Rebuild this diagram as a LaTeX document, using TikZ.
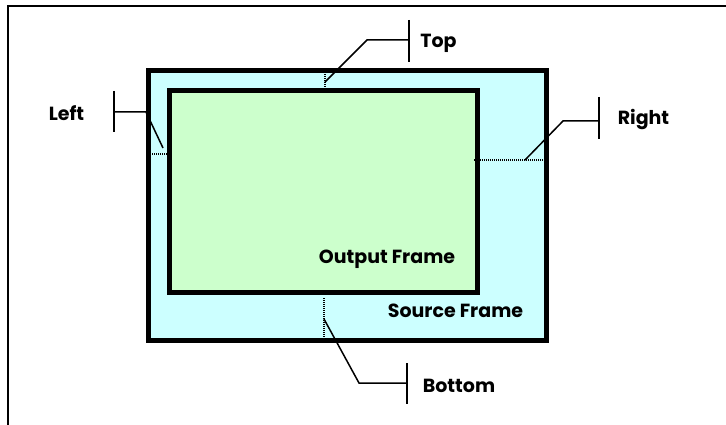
\documentclass[tikz,border=0pt]{standalone}
\usepackage{fontspec}
\setmainfont{Poppins}
\definecolor{srcfill}{HTML}{CCFFFF}
\definecolor{outfill}{HTML}{CCFFCC}
\begin{document}
\begin{tikzpicture}[x=1pt,y=-1pt,
  frame/.style={draw=black,line width=5pt,inner sep=0pt,outer sep=0pt},
  lbl/.style={font=\fontsize{19}{22}\selectfont\bfseries,inner sep=0pt},
  leader/.style={line width=1.5pt},
  measure/.style={dash pattern=on 1pt off 1pt,line width=1.5pt}]
\useasboundingbox (0,0) rectangle (726,425);
\draw[line width=2.2pt] (726,6) -- (8,6) -- (8,425);
\node[frame,fill=srcfill,minimum width=398pt,minimum height=270pt] (src) at (347.5,205.5) {};
\node[frame,fill=outfill,minimum width=308.5pt,minimum height=202pt] (out) at (323.25,191.5) {};
\node[lbl] (srclbl) at (455.5,311) {Source Frame};
\node[lbl] (outlbl) at (387,259) {Output Frame};
% measures
\coordinate (t1) at (325,72); \coordinate (t2) at (325,90);
\coordinate (l1) at (150,154); \coordinate (l2) at (167,154);
\coordinate (r1) at (474,160); \coordinate (r2) at (545,160);
\coordinate (b1) at (324,298); \coordinate (b2) at (324,340);
\draw[measure] (t1) -- (t2);
\draw[measure] (l1) -- (l2);
\draw[measure] (r1) -- (r2);
\draw[measure] (b1) -- (b2);
% labels
\node[lbl] (top) at (438.5,43) {Top};
\node[lbl] (left) at (66.5,113) {Left};
\node[lbl] (right) at (643.5,120) {Right};
\node[lbl] (bottom) at (459,386) {Bottom};
% leaders
\coordinate (tb1) at (409,20); \coordinate (tb2) at (409,62);
\coordinate (tm) at (409,40); \coordinate (tk) at (367,40); \coordinate (te) at (325,82);
\draw[leader] (tb1) -- (tb2);
\draw[leader] (tm) -- (tk) -- (te);
\coordinate (lb1) at (114,91); \coordinate (lb2) at (114,132);
\coordinate (lm) at (114,112); \coordinate (lk) at (146,112); \coordinate (le) at (163,148);
\draw[leader] (lb1) -- (lb2);
\draw[leader] (lm) -- (lk) -- (le);
\coordinate (rb1) at (599,97); \coordinate (rb2) at (599,139);
\coordinate (rm) at (599,121); \coordinate (rk) at (563,121); \coordinate (re) at (525,160);
\draw[leader] (rb1) -- (rb2);
\draw[leader] (rm) -- (rk) -- (re);
\coordinate (bb1) at (407,363); \coordinate (bb2) at (407,404);
\coordinate (bm) at (407,383); \coordinate (bk) at (359,383); \coordinate (be) at (324,319);
\draw[leader] (bb1) -- (bb2);
\draw[leader] (bm) -- (bk) -- (be);
\end{tikzpicture}
\end{document}
